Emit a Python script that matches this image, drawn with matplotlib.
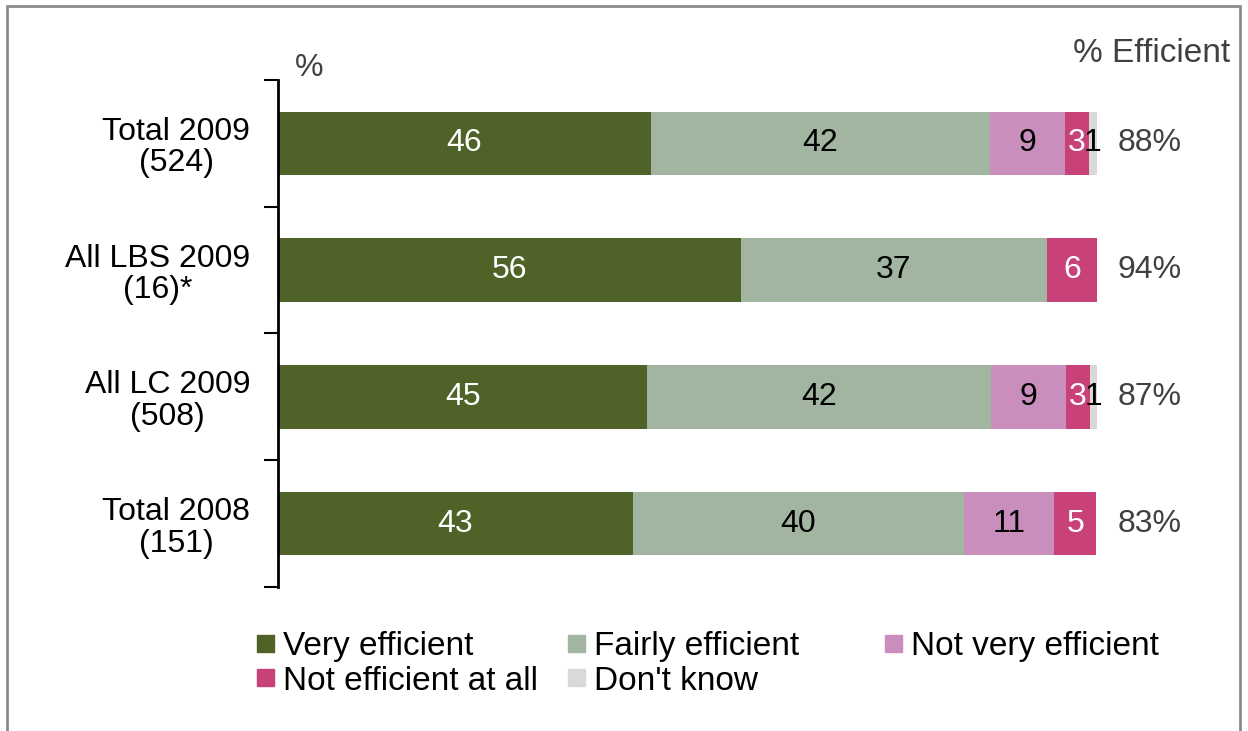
import numpy as np
import matplotlib.pyplot as plt
from matplotlib.patches import Rectangle

plt.rcParams['font.family'] = ['Liberation Sans', 'DejaVu Sans']

# data
categories = ['Total 2009\n(524)', 'All LBS 2009\n(16)*', 'All LC 2009\n(508)', 'Total 2008\n(151)']
series = ['Very efficient', 'Fairly efficient', 'Not very efficient', 'Not efficient at all', "Don't know"]
very = [45.5, 56.5, 45.1, 43.3]
fairly = [41.4, 37.4, 41.9, 40.4]
not_very = [9.2, 0, 9.2, 11.1]
not_at_all = [2.9, 6.1, 2.9, 5.1]
dont_know = [1.0, 0, 1.0, 0]
very_lbl = ['46', '56', '45', '43']
fairly_lbl = ['42', '37', '42', '40']
not_very_lbl = ['9', '', '9', '11']
not_at_all_lbl = ['3', '6', '3', '5']
dont_know_lbl = ['1', '', '1', '']
efficient = ['88%', '94%', '87%', '83%']

colors = ['#4F6228', '#A1B5A0', '#C98EBB', '#C84178', '#D9D9D9']
text_cols = ['white', 'black', 'black', 'white', 'black']

W, H = 1248, 731
fig = plt.figure(figsize=(W / 100, H / 100), dpi=100)
ax = fig.add_axes([0.2228, 0.197, 0.6562, 0.6936])

y = np.arange(len(categories))
left = np.zeros(len(categories))
vals = [very, fairly, not_very, not_at_all, dont_know]
lbls = [very_lbl, fairly_lbl, not_very_lbl, not_at_all_lbl, dont_know_lbl]
for v, l, c, tc in zip(vals, lbls, colors, text_cols):
    v = np.array(v)
    ax.barh(y, v, left=left, height=0.5, color=c)
    for i in range(len(y)):
        if l[i]:
            ax.text(left[i] + v[i] / 2, y[i], l[i], ha='center', va='center',
                    color=tc, fontsize=23)
    left = left + v

for i in range(len(y)):
    ax.text(102.5, y[i], efficient[i], ha='left', va='center', fontsize=23, color='#404040')

ax.set_xlim(0, 100)
ax.set_ylim(3.5, -0.5)
ax.set_yticks(y)
ax.set_yticklabels(categories, fontsize=23, linespacing=1.07, multialignment='center')
ax.set_yticks(np.arange(-0.5, 4, 1), minor=True)
ax.tick_params(axis='y', which='major', length=0, pad=20)
ax.tick_params(axis='y', which='minor', length=10, width=1.5, direction='out')
ax.set_xticks([])
for s in ['top', 'right', 'bottom']:
    ax.spines[s].set_visible(False)
ax.spines['left'].set_linewidth(2)

fig.text(309 / W, 1 - 68 / H, '%', ha='center', va='center', fontsize=23, color='#404040')
fig.text(1230 / W, 1 - 53 / H, '% Efficient', ha='right', va='center', fontsize=24, color='#404040')

# legend, laid out like the original (row-wise, uneven columns)
leg_x = [257, 568, 885, 257, 568]
leg_y = [643, 643, 643, 677, 677]
for k in range(len(series)):
    fig.patches.append(Rectangle((leg_x[k] / W, 1 - (leg_y[k] + 8.5) / H), 17 / W, 17 / H,
                                 transform=fig.transFigure, color=colors[k]))
    fig.text((leg_x[k] + 26) / W, 1 - (leg_y[k] + 4) / H, series[k], ha='left', va='center',
             fontsize=24, color='black')

fig.patches.append(Rectangle((7 / W, -0.05), (1240 - 7) / W, 1.05 - 6 / H,
                             transform=fig.transFigure, fill=False, edgecolor='#8C8C8C', lw=2))

fig.savefig('out.png', dpi=100)
